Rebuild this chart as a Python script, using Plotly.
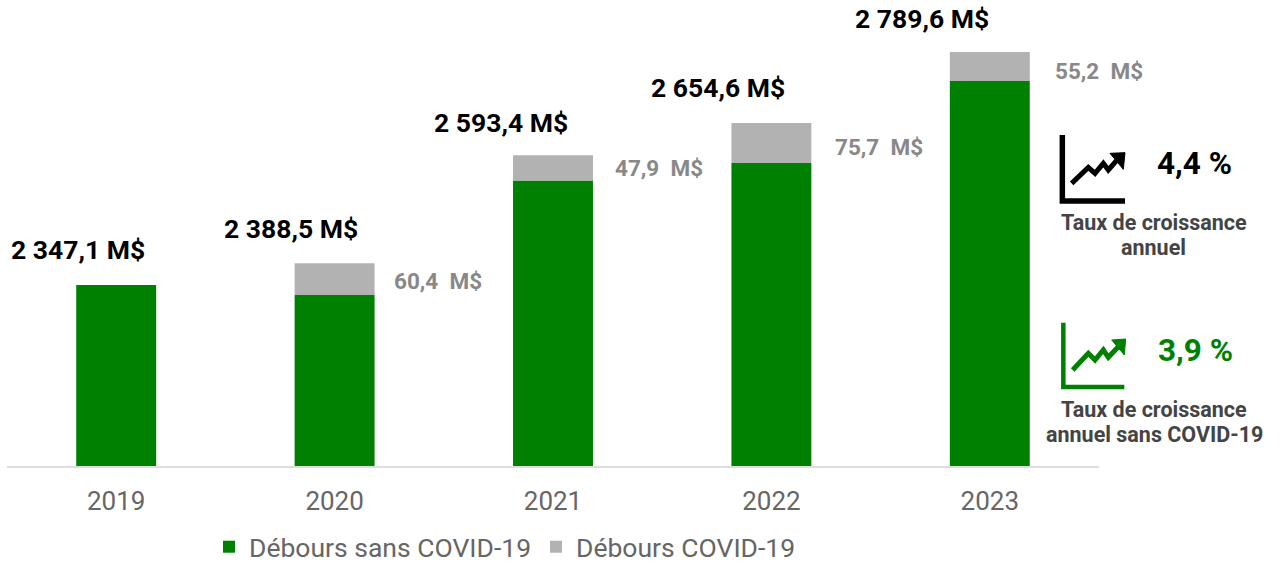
import plotly.graph_objects as go

years = ["2019", "2020", "2021", "2022", "2023"]
totals = [2347.1, 2388.5, 2593.4, 2654.6, 2789.6]
covid = [0, 60.4, 47.9, 75.7, 55.2]
total_labels = ["2 347,1 M$", "2 388,5 M$", "2 593,4 M$", "2 654,6 M$", "2 789,6 M$"]
covid_labels = ["", "60,4\u00a0\u00a0M$", "47,9\u00a0\u00a0M$", "75,7\u00a0\u00a0M$", "55,2\u00a0\u00a0M$"]
sans_covid = [round(t - c, 1) for t, c in zip(totals, covid)]
series_names = ["Débours sans COVID-19", "Débours COVID-19"]

GREEN = "#008000"
GREY = "#B2B2B2"
FONT = "Roboto"
W, H = 1280, 585  # canvas slightly taller than the window so the legend is not pushed up
L, R = 7, 181
BASELINE = 466

total_dx = [-38, -44, -52, -53, -68]
total_dy = [36, 35, 33, 36, 33]
covid_dx = [0, 104, 107, 109, 110]
covid_dy = [0, -2, 0, -4, -4]


def px(x):
    return (x - L) / (W - L - R)


def py(y):
    return 1 - y / H


def zoom_path(points, close=False):
    pts = [(1040 + a / 3, 120 + b / 3) for a, b in points]
    s = "M" + " L".join(f"{px(a):.5f},{py(b):.5f}" for a, b in pts)
    return s + (" Z" if close else "")


fig = go.Figure()
fig.add_bar(x=years, y=sans_covid, name=series_names[0], marker_color=GREEN, marker_line_width=0, base=0)
fig.add_bar(x=years, y=covid, name=series_names[1], marker_color=GREY, marker_line_width=0, base=sans_covid)

annotations = []
for i, y in enumerate(years):
    annotations.append(dict(x=i, y=totals[i], xref="x", yref="y", text=total_labels[i], showarrow=False,
                            xshift=total_dx[i], yshift=total_dy[i], yanchor="middle",
                            font=dict(family=FONT, size=26.5, color="#000000", weight="bold")))
    if covid[i]:
        annotations.append(dict(x=i, y=totals[i] - covid[i] / 2, xref="x", yref="y", text=covid_labels[i],
                                showarrow=False, xshift=covid_dx[i] - 1, yshift=covid_dy[i], yanchor="middle",
                                font=dict(family=FONT, size=22.5, color="#888888", weight="bold")))


def side(text, x, y, size, color):
    annotations.append(dict(x=px(x), y=py(y), xref="paper", yref="paper", text=text, showarrow=False,
                            xanchor="center", yanchor="middle",
                            font=dict(family=FONT, size=size, color=color, weight="bold")))


side("4,4 %", 1194, 163, 31.5, "#000000")
side("3,9 %", 1195, 350, 31.5, GREEN)
side("Taux de croissance", 1154, 222, 21.5, "#444444")
side("annuel", 1153, 247, 21.5, "#444444")
side("Taux de croissance", 1154, 409, 21.5, "#444444")
side("annuel sans COVID-19", 1154, 434, 21.5, "#444444")

shapes = []


def icon(axis_pts, line_pts, head_pts, color, axis_w, line_w):
    base = dict(xref="paper", yref="paper", layer="above")
    shapes.append(dict(type="path", path=zoom_path(axis_pts), line=dict(color=color, width=axis_w), **base))
    shapes.append(dict(type="path", path=zoom_path(line_pts), line=dict(color=color, width=line_w), **base))
    shapes.append(dict(type="path", path=zoom_path(head_pts, close=True), fillcolor=color,
                       line=dict(color=color, width=1), **base))


icon([(67, 45), (67, 243), (255, 243)],
     [(95, 190), (145, 142), (165, 160), (190, 130), (205, 150), (240, 110)],
     [(210, 100), (255, 98), (250, 148)], "#000000", 5.5, 5)
icon([(70, 608), (70, 801), (253, 801)],
     [(98, 750), (145, 700), (165, 720), (190, 690), (205, 712), (240, 675)],
     [(215, 660), (257, 657), (253, 705)], GREEN, 4.5, 5)

fig.update_layout(
    width=W, height=H, autosize=False,
    margin=dict(l=L, r=R, t=0, b=0, pad=0),
    barmode="overlay", bargap=0.634,
    paper_bgcolor="#ffffff", plot_bgcolor="#ffffff",
    font=dict(family=FONT, color="#666666"),
    showlegend=True,
    legend=dict(orientation="h", x=px(505), xanchor="center", y=py(547), yanchor="middle",
                font=dict(family=FONT, size=26.5, color="#666666"),
                traceorder="normal", itemclick=False, itemdoubleclick=False),
    annotations=annotations, shapes=shapes,
)
fig.update_xaxes(type="category", categoryorder="array", categoryarray=years, range=[-0.5, 4.5], showline=True,
                 linecolor="#DDDDDD", linewidth=2, ticks="", showgrid=False, zeroline=False,
                 tickfont=dict(family=FONT, size=26, color="#666666"), ticklabelstandoff=11)
fig.update_yaxes(range=[2003.4, 2888.3], domain=[py(BASELINE), 1], visible=False, showgrid=False, zeroline=False)
fig.write_html("out.html", config=dict(displayModeBar=False),
               post_script="document.body.style.margin='0';document.body.style.overflow='hidden';"
                           "document.documentElement.style.overflow='hidden';")
